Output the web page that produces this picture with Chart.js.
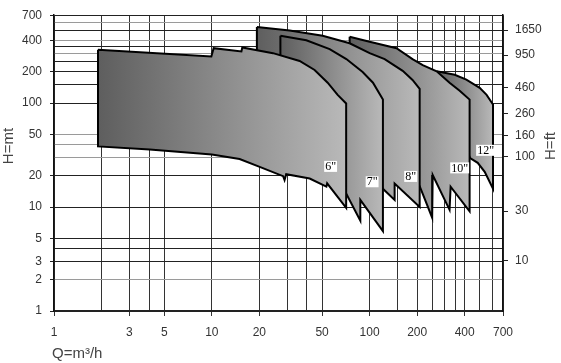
<!DOCTYPE html>
<html>
<head>
<meta charset="utf-8">
<script src="https://cdn.jsdelivr.net/npm/chart.js@4"></script>
<style>
  body { margin: 0; background: #fff; }
</style>
</head>
<body>
<canvas id="grafica" width="561" height="363"></canvas>
<script>
// grid / tick values
const gridH = [1, 2, 3, 4, 5, 10, 20, 30, 40, 50, 100, 150, 200, 250, 300, 350, 400, 500, 600, 700];
const labelH = [1, 2, 3, 5, 10, 20, 50, 100, 200, 400, 700];
const grayH = [2, 30, 40, 50, 300, 400, 600];
const gridQ = [1, 2, 3, 4, 5, 10, 20, 30, 40, 50, 100, 150, 200, 250, 300, 350, 400, 500, 600, 700];
const labelQ = [1, 3, 5, 10, 20, 50, 100, 200, 400, 700];
const ticksFt = [10, 30, 100, 160, 260, 460, 950, 1650];
const M_TO_FT = 3.2808;

// pump sizes and their working areas (Q m3/h, H m)
const sizes = ['6"', '7"', '8"', '10"', '12"'];

const q6 = [1.9, 9.93, 10.27, 15.4, 15.6, 24.4, 36, 44.8, 54.2, 62.7, 71, 71, 53.8, 53.2, 41.7, 29.6, 28.9, 28.3, 20.1, 15, 10, 4.04, 1.9, 1.9];
const h6 = [325, 281, 337, 314, 343, 302, 254, 208, 157, 120, 99, 9.8, 16.9, 15.7, 18.8, 20.7, 18.2, 19.8, 24.3, 29, 32, 35.7, 38.3, 325];

const q7 = [27.2, 39.7, 55.8, 71.2, 90.3, 105, 121.4, 121.4, 87.3, 87.3, 71, 48.2, 27.2, 27.2];
const h7 = [444, 402, 330, 265, 199, 157, 108, 5.86, 11.7, 7.4, 13.5, 33.8, 65, 444];

const q8 = [19.3, 31.1, 50.4, 74.7, 100, 124.5, 162, 187, 207.5, 207.5, 144, 144, 121.4, 100, 36, 19.3, 19.3];
const h8 = [540, 500, 444, 376, 302, 265, 204, 167, 137, 10, 16.8, 11.7, 15, 21.8, 65, 101, 540];

const q10 = [74.7, 100, 148, 187, 217, 266, 321, 372, 430, 430, 326, 321, 251, 249, 207.5, 155, 74.7, 74.7];
const h10 = [434, 389, 337, 265, 232, 202, 157, 131.5, 108, 9.1, 15.7, 9.4, 20.3, 7.9, 15.9, 33.8, 101, 434];

const q12 = [266, 346, 410, 498, 551, 605, 605, 536, 484, 433, 372, 278, 266];
const h12 = [202, 187, 168, 140, 120, 96.8, 15, 21.8, 26.6, 29.6, 52.4, 101, 202];

// where the size tags sit
const tagQ = [56.6, 103.7, 182, 372, 543];
const tagH = [24.6, 17.5, 19.7, 23.8, 35.1];

const areas = [[q6, h6], [q7, h7], [q8, h8], [q10, h10], [q12, h12]];

function shade(ctx) {
    const chart = ctx.chart;
    if (!chart.chartArea) return '#999';
    const qs = ctx.dataset.data.map(p => p.x);
    const x0 = chart.scales.x.getPixelForValue(Math.min(...qs));
    const x1 = chart.scales.x.getPixelForValue(Math.max(...qs));
    const g = chart.ctx.createLinearGradient(x0, 0, x1, 0);
    g.addColorStop(0, '#5e5e5e');
    g.addColorStop(1, '#b9b9b9');
    return g;
}

const datasets = areas.map((a, i) => ({
    label: sizes[i],
    data: a[0].map((q, j) => ({x: q, y: a[1][j]})),
    fill: 'shape',
    backgroundColor: shade,
    borderColor: '#000',
    borderWidth: 2,
    borderJoinStyle: 'miter',
    pointRadius: 0,
    tension: 0
}));

const extras = {
    id: 'extras',
    afterDatasetsDraw(chart) {
        const {ctx, scales} = chart;
        ctx.save();
        ctx.font = '12px "Liberation Serif"';
        ctx.textAlign = 'center';
        ctx.textBaseline = 'middle';
        sizes.forEach((s, i) => {
            const x = scales.x.getPixelForValue(tagQ[i]);
            const y = scales.y.getPixelForValue(tagH[i]);
            const w = ctx.measureText(s).width + 2;
            ctx.fillStyle = '#fff';
            ctx.fillRect(x - w / 2, y - 5.5, w, 11);
            ctx.fillStyle = '#000';
            ctx.fillText(s, x, y + 0.5);
        });
        ctx.restore();
    },
    afterDraw(chart) {
        const ctx = chart.ctx;
        ctx.save();
        ctx.font = '15px "Liberation Sans"';
        ctx.fillStyle = '#444';
        ctx.textBaseline = 'middle';
        ctx.textAlign = 'center';
        [[9, 146, 'H=mt'], [551, 146, 'H=ft']].forEach(t => {
            ctx.save();
            ctx.translate(t[0], t[1]);
            ctx.rotate(-Math.PI / 2);
            ctx.fillText(t[2], 0, 0);
            ctx.restore();
        });
        ctx.textAlign = 'left';
        ctx.fillText('Q=m³/h', 52, 354);
        ctx.restore();
    }
};

const config = {
    type: 'line',
    data: {datasets: datasets},
    options: {
        responsive: false,
        animation: false,
        layout: {padding: {top: 12, left: 0, right: 0, bottom: 0}},
        plugins: {legend: {display: false}, tooltip: {enabled: false}},
        scales: {
            x: {
                type: 'logarithmic',
                min: 1,
                max: 700,
                afterBuildTicks: s => { s.ticks = gridQ.map(v => ({value: v})); },
                afterFit: s => { s.height = 52; },
                ticks: {
                    autoSkip: false, maxRotation: 0, minRotation: 0, padding: 9,
                    color: '#333', font: {family: 'Liberation Sans', size: 12},
                    callback: v => labelQ.includes(v) ? String(v) : ''
                },
                grid: {
                    color: '#333', lineWidth: 1, tickLength: 5,
                    tickColor: c => c.tick && labelQ.includes(c.tick.value) ? '#333' : 'rgba(0,0,0,0)'
                },
                border: {color: '#222', width: 2}
            },
            y: {
                type: 'logarithmic',
                position: 'left',
                min: 1,
                max: 700,
                afterBuildTicks: s => { s.ticks = gridH.map(v => ({value: v})); },
                afterFit: s => { s.width = 54; },
                ticks: {
                    autoSkip: false, padding: 8,
                    color: '#333', font: {family: 'Liberation Sans', size: 12},
                    callback: v => labelH.includes(v) ? String(v) : ''
                },
                grid: {
                    color: c => c.tick && grayH.includes(c.tick.value) ? '#9a9a9a' : '#222',
                    lineWidth: 1, tickLength: 4,
                    tickColor: c => c.tick && labelH.includes(c.tick.value) ? '#222' : 'rgba(0,0,0,0)'
                },
                border: {color: '#111', width: 1.5}
            },
            yFt: {
                type: 'logarithmic',
                position: 'right',
                min: 1 * M_TO_FT,
                max: 700 * M_TO_FT,
                afterBuildTicks: s => { s.ticks = ticksFt.map(v => ({value: v})); },
                afterFit: s => { s.width = 58; },
                ticks: {
                    autoSkip: false, padding: 7,
                    color: '#333', font: {family: 'Liberation Sans', size: 12},
                    callback: v => String(v)
                },
                grid: {drawOnChartArea: false, tickLength: 5, color: '#222'},
                border: {color: '#111', width: 1.5}
            }
        }
    },
    plugins: [extras]
};

const ctx = document.getElementById('grafica').getContext('2d');
const graficaBombas = new Chart(ctx, config);
</script>
</body>
</html>
